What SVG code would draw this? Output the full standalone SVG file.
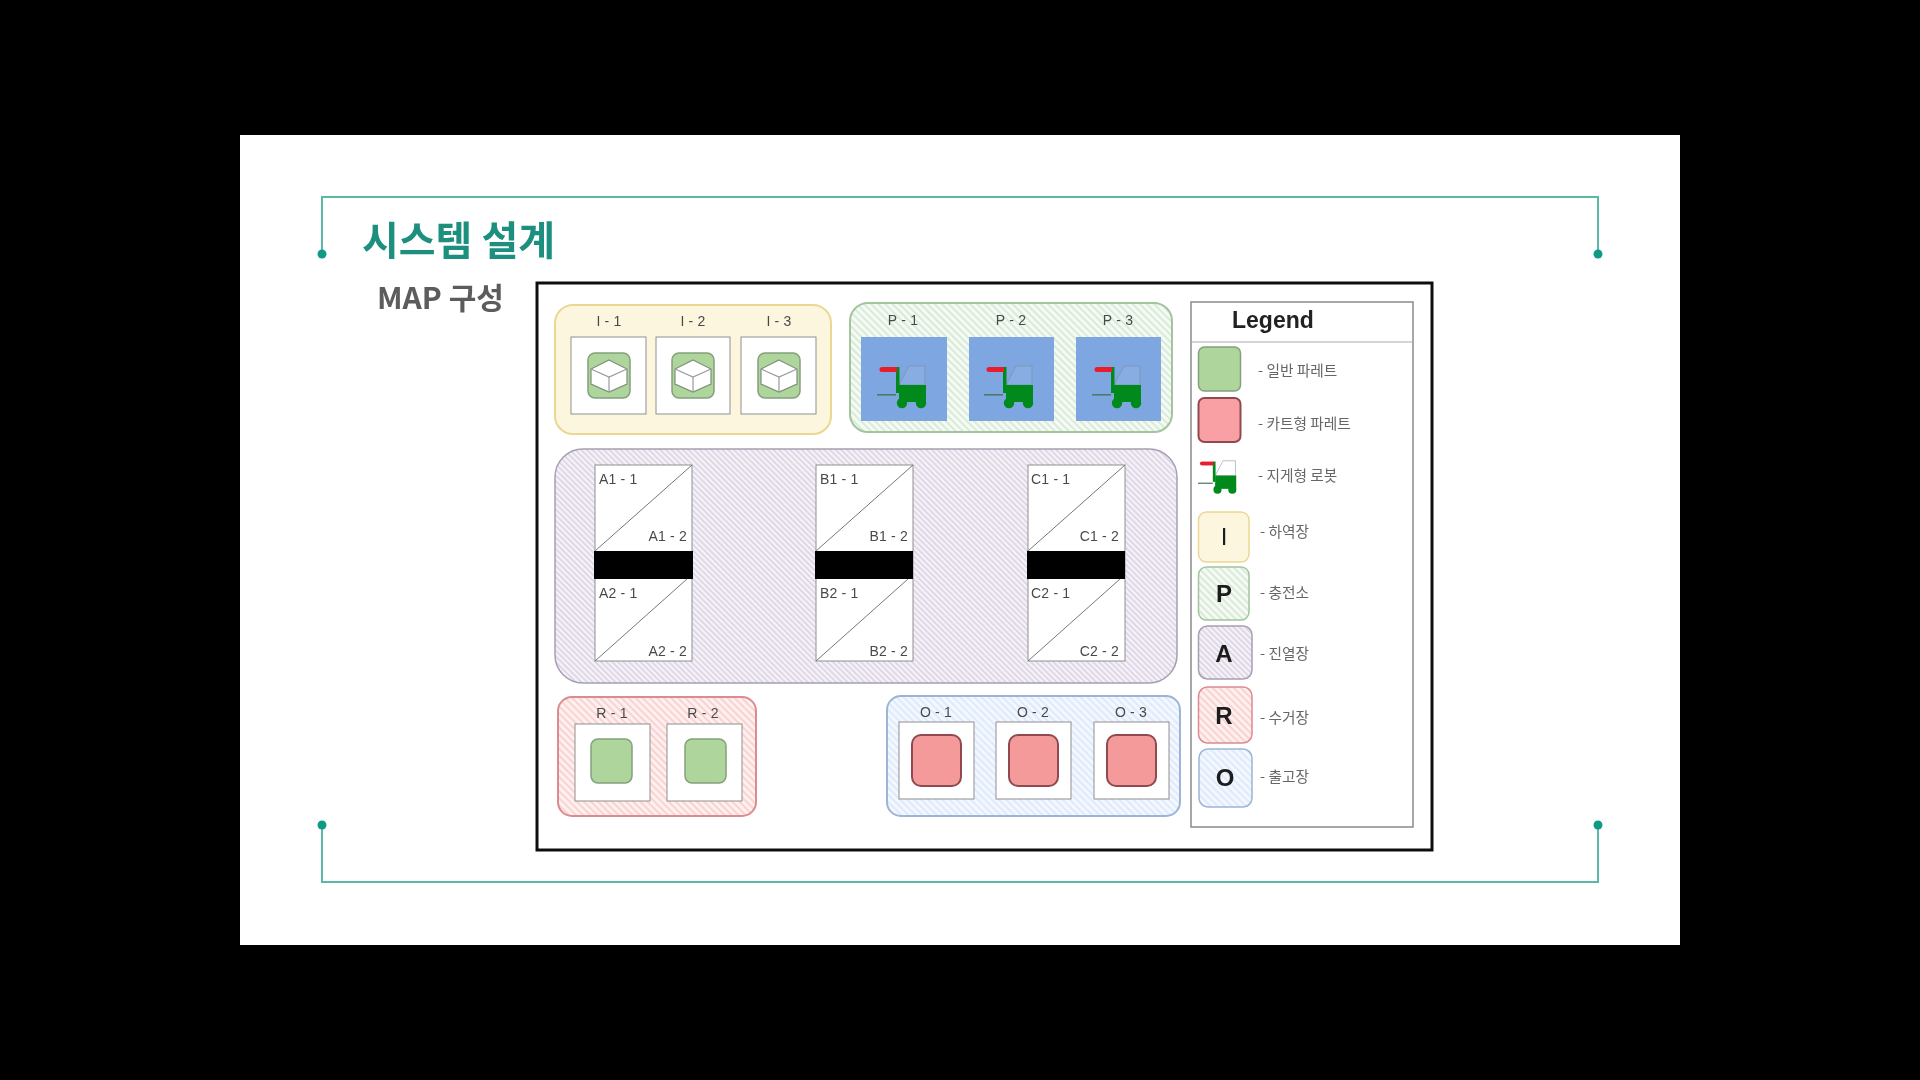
<svg xmlns="http://www.w3.org/2000/svg" xmlns:xlink="http://www.w3.org/1999/xlink" width="1920" height="1080" viewBox="0 0 1920 1080">
<style>
.lbl{font-family:"Liberation Sans",Arial,sans-serif;font-size:14px;fill:#4a4a4a;letter-spacing:.2px}
.m{text-anchor:middle}
.e{text-anchor:end}
.ko{font-family:"Noto Sans CJK KR",sans-serif;font-size:14.7px;fill:#666}
.let{font-family:"Liberation Sans",Arial,sans-serif;font-size:24px;font-weight:700;fill:#1a1a1a;text-anchor:middle}
.cell{fill:#fff;stroke:#8f8f8f;stroke-width:1}
.blue{fill:#7ea6e0}
.frame{fill:none;stroke:#5cb8a6;stroke-width:2}
.dot{fill:#119b84}
.green{fill:#aed59c;stroke:#84a07c;stroke-width:1.5}
.red{fill:#f49a9a;stroke:#8f4a50;stroke-width:2}
.diag{stroke:#777;stroke-width:1;fill:none}
</style>
<defs>
<filter id="soft" filterUnits="userSpaceOnUse" x="0" y="0" width="1920" height="1080"><feGaussianBlur stdDeviation="0.55"/></filter>
<pattern id="hP" width="5" height="5" patternUnits="userSpaceOnUse" patternTransform="rotate(-45)"><rect width="5" height="5" fill="#f5faf4"/><rect width="2" height="5" fill="#d9ebd8"/></pattern>
<pattern id="hA" width="4" height="4" patternUnits="userSpaceOnUse" patternTransform="rotate(-45)"><rect width="4" height="4" fill="#f7f2f9"/><rect width="1.6" height="4" fill="#d9d3e1"/></pattern>
<pattern id="hR" width="5" height="5" patternUnits="userSpaceOnUse" patternTransform="rotate(-45)"><rect width="5" height="5" fill="#fdf0ef"/><rect width="2" height="5" fill="#f9d3d1"/></pattern>
<pattern id="hO" width="5" height="5" patternUnits="userSpaceOnUse" patternTransform="rotate(-45)"><rect width="5" height="5" fill="#f3f7fe"/><rect width="2" height="5" fill="#dfeafc"/></pattern>
<g id="fork">
<path d="M23 18 L32 1 L48 1 L48 20 L23 20Z" fill="#ffffff" fill-opacity=".08" stroke="#7f8fa8" stroke-opacity=".7" stroke-width="1"/>
<rect x="19" y="2" width="3.5" height="26" fill="#008a1e"/>
<rect x="22" y="20" width="27" height="17" fill="#008a1e"/>
<circle cx="25" cy="38" r="5.200" fill="#008a1e"/>
<circle cx="44" cy="38" r="5.200" fill="#008a1e"/>
<rect x="0" y="29" width="19" height="1.6" fill="#4f7a6a"/>
<rect x="6" y="2" width="14" height="5" fill="#e81c2c"/>
<circle cx="5" cy="4.500" r="2.500" fill="#e81c2c"/>
</g>
<g id="box">
<rect x="0" y="0" width="42" height="45" rx="7" class="green"/>
<path d="M21 7 L39 16 L39 31 L21 39 L3 31 L3 16Z" fill="#fff" stroke="#7f8f7c" stroke-width="1.2"/>
<path d="M3 16 L21 24 L39 16 M21 24 L21 39" fill="none" stroke="#9a9a9a" stroke-width="1.2"/>
</g>
</defs>

<g filter="url(#soft)">
<rect width="1920" height="1080" fill="#000"/>
<rect x="240" y="135" width="1440" height="810" fill="#fff"/>

<g id="slide-frame">
<path class="frame" d="M322 254 V197 H1598 V254"/>
<path class="frame" d="M322 825 V882 H1598 V825"/>
<circle class="dot" cx="322" cy="254" r="4.500"/><circle class="dot" cx="1598" cy="254" r="4.500"/>
<circle class="dot" cx="322" cy="825" r="4.500"/><circle class="dot" cx="1598" cy="825" r="4.500"/>
</g>
<text id="title" x="362" y="255" font-family="'Noto Sans CJK KR',sans-serif" font-size="40" font-weight="700" fill="#1f8f7f">시스템 설계</text>
<text id="subtitle" x="377" y="309" font-family="'Noto Sans CJK KR',sans-serif" font-size="30" font-weight="700" fill="#5c5c5c">MAP 구성</text>

<rect id="map" x="537" y="283" width="895" height="567" fill="#fff" stroke="#111" stroke-width="3"/>

<g id="zone-I">
<rect x="555" y="305" width="276" height="129" rx="18" fill="#fdf6df" stroke="#ecd792" stroke-width="2"/>
<rect class="cell" x="571" y="337" width="75" height="77"/><rect class="cell" x="656" y="337" width="74" height="77"/><rect class="cell" x="741" y="337" width="75" height="77"/>
<use xlink:href="#box" href="#box" x="588" y="353"/><use xlink:href="#box" href="#box" x="672" y="353"/><use xlink:href="#box" href="#box" x="758" y="353"/>
<text class="lbl m" x="609" y="326">I - 1</text><text class="lbl m" x="693" y="326">I - 2</text><text class="lbl m" x="779" y="326">I - 3</text>
</g>

<g id="zone-P">
<rect x="850" y="303" width="322" height="129" rx="18" fill="url(#hP)" stroke="#a3c49e" stroke-width="2"/>
<rect class="blue" x="861" y="337" width="86" height="84"/><rect class="blue" x="969" y="337" width="85" height="84"/><rect class="blue" x="1076" y="337" width="85" height="84"/>
<use xlink:href="#fork" href="#fork" x="877" y="365"/><use xlink:href="#fork" href="#fork" x="984" y="365"/><use xlink:href="#fork" href="#fork" x="1092" y="365"/>
<text class="lbl m" x="903" y="325">P - 1</text><text class="lbl m" x="1011" y="325">P - 2</text><text class="lbl m" x="1118" y="325">P - 3</text>
</g>

<g id="zone-A">
<rect x="555" y="449" width="622" height="234" rx="28" fill="url(#hA)" stroke="#a79fb3" stroke-width="1.5"/>
<g id="rack-A">
<rect class="cell" x="595" y="465" width="97" height="196"/>
<path class="diag" d="M595 551 L692 465 M595 661 L687 579"/>
<rect x="594" y="551" width="99" height="28" fill="#000"/>
<text class="lbl" x="599" y="484">A1 - 1</text><text class="lbl e" x="687" y="541">A1 - 2</text>
<text class="lbl" x="599" y="598">A2 - 1</text><text class="lbl e" x="687" y="656">A2 - 2</text>
</g>
<g id="rack-B">
<rect class="cell" x="816" y="465" width="97" height="196"/>
<path class="diag" d="M816 551 L913 465 M816 661 L908 579"/>
<rect x="815" y="551" width="98" height="28" fill="#000"/>
<text class="lbl" x="820" y="484">B1 - 1</text><text class="lbl e" x="908" y="541">B1 - 2</text>
<text class="lbl" x="820" y="598">B2 - 1</text><text class="lbl e" x="908" y="656">B2 - 2</text>
</g>
<g id="rack-C">
<rect class="cell" x="1028" y="465" width="97" height="196"/>
<path class="diag" d="M1028 551 L1125 465 M1028 661 L1120 579"/>
<rect x="1027" y="551" width="98" height="28" fill="#000"/>
<text class="lbl" x="1031" y="484">C1 - 1</text><text class="lbl e" x="1119" y="541">C1 - 2</text>
<text class="lbl" x="1031" y="598">C2 - 1</text><text class="lbl e" x="1119" y="656">C2 - 2</text>
</g>
</g>

<g id="zone-R">
<rect x="558" y="697" width="198" height="119" rx="14" fill="url(#hR)" stroke="#dc8b8f" stroke-width="2"/>
<rect class="cell" x="575" y="724" width="75" height="77"/><rect class="cell" x="667" y="724" width="75" height="77"/>
<rect class="green" x="591" y="739" width="41" height="44" rx="7"/><rect class="green" x="685" y="739" width="41" height="44" rx="7"/>
<text class="lbl m" x="612" y="718">R - 1</text><text class="lbl m" x="703" y="718">R - 2</text>
</g>

<g id="zone-O">
<rect x="887" y="696" width="293" height="120" rx="14" fill="url(#hO)" stroke="#9db4d6" stroke-width="2"/>
<rect class="cell" x="899" y="722" width="75" height="77"/><rect class="cell" x="996" y="722" width="75" height="77"/><rect class="cell" x="1094" y="722" width="75" height="77"/>
<rect class="red" x="912" y="735" width="49" height="51" rx="9"/><rect class="red" x="1009" y="735" width="49" height="51" rx="9"/><rect class="red" x="1107" y="735" width="49" height="51" rx="9"/>
<text class="lbl m" x="936" y="717">O - 1</text><text class="lbl m" x="1033" y="717">O - 2</text><text class="lbl m" x="1131" y="717">O - 3</text>
</g>

<g id="legend">
<rect x="1191" y="302" width="222" height="525" fill="#fff" stroke="#8a8a8a" stroke-width="1.5"/>
<path d="M1192 342 H1413" stroke="#aaa" stroke-width="1"/>
<text x="1232" y="328" font-family="'Liberation Sans',Arial,sans-serif" font-size="23" font-weight="700" fill="#222">Legend</text>
<g id="legend-pallet"><rect class="green" x="1198.500" y="347" width="42" height="44" rx="6"/><text class="ko" x="1258" y="376">- 일반 파레트</text></g>
<g id="legend-cart"><rect x="1198.500" y="398" width="42" height="44" rx="6" fill="#f9a0a5" stroke="#8f4a50" stroke-width="2"/><text class="ko" x="1258" y="429">- 카트형 파레트</text></g>
<g id="legend-robot"><use xlink:href="#fork" href="#fork" transform="translate(1198 460) scale(.78)"/><text class="ko" x="1258" y="481">- 지게형 로봇</text></g>
<g id="legend-I"><rect x="1198.500" y="512" width="50.500" height="50" rx="8" fill="#fdf6df" stroke="#ecd792" stroke-width="1.500"/><text class="let" x="1224" y="545" style="font-weight:400">I</text><text class="ko" x="1260" y="537">- 하역장</text></g>
<g id="legend-P"><rect x="1198.500" y="567" width="50.500" height="53" rx="8" fill="url(#hP)" stroke="#a3c49e" stroke-width="1.500"/><text class="let" x="1224" y="602">P</text><text class="ko" x="1260" y="598">- 충전소</text></g>
<g id="legend-A"><rect x="1198.500" y="626" width="53.500" height="53" rx="9" fill="url(#hA)" stroke="#a79fb3" stroke-width="1.500"/><text class="let" x="1224" y="662">A</text><text class="ko" x="1260" y="659">- 진열장</text></g>
<g id="legend-R"><rect x="1198.500" y="687" width="53.500" height="56" rx="9" fill="url(#hR)" stroke="#dc8b8f" stroke-width="1.500"/><text class="let" x="1224" y="724">R</text><text class="ko" x="1260" y="723">- 수거장</text></g>
<g id="legend-O"><rect x="1199" y="749" width="53" height="58" rx="9" fill="url(#hO)" stroke="#9db4d6" stroke-width="1.500"/><text class="let" x="1225" y="786">O</text><text class="ko" x="1260" y="782">- 출고장</text></g>
</g>
</g>
</svg>
